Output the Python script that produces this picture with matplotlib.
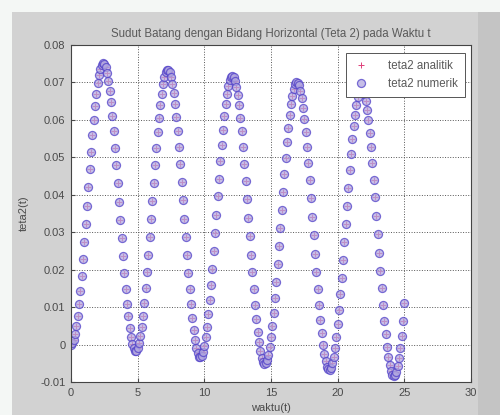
import numpy as np
import matplotlib.pyplot as plt
from matplotlib.patches import Rectangle

plt.rcParams['font.family'] = ['Liberation Sans', 'DejaVu Sans']

# time samples (0 .. 25 s, step 0.1)
waktu = np.round(np.arange(0, 251) * 0.1, 1)

# teta2 (analytic)
teta2_analitik = [
    0.0000, 0.0003, 0.0012, 0.0027, 0.0049, 0.0076, 0.0107, 0.0144, 0.0184, 0.0228,
    0.0274, 0.0322, 0.0371, 0.0420, 0.0468, 0.0514, 0.0559, 0.0600, 0.0637, 0.0670,
    0.0698, 0.0720, 0.0737, 0.0747, 0.0751, 0.0749, 0.0741, 0.0726, 0.0705, 0.0678,
    0.0647, 0.0611, 0.0570, 0.0526, 0.0480, 0.0432, 0.0382, 0.0333, 0.0284, 0.0236,
    0.0190, 0.0148, 0.0109, 0.0075, 0.0045, 0.0021, 0.0002, -0.0010, -0.0016, -0.0016,
    -0.0009, 0.0004, 0.0023, 0.0047, 0.0077, 0.0112, 0.0151, 0.0193, 0.0239, 0.0286,
    0.0334, 0.0383, 0.0432, 0.0479, 0.0524, 0.0567, 0.0606, 0.0640, 0.0670, 0.0695,
    0.0714, 0.0727, 0.0734, 0.0734, 0.0728, 0.0715, 0.0697, 0.0673, 0.0643, 0.0609,
    0.0570, 0.0527, 0.0482, 0.0434, 0.0385, 0.0335, 0.0286, 0.0238, 0.0191, 0.0148,
    0.0107, 0.0071, 0.0039, 0.0013, -0.0008, -0.0023, -0.0032, -0.0034, -0.0030, -0.0019,
    -0.0003, 0.0020, 0.0048, 0.0081, 0.0118, 0.0159, 0.0203, 0.0250, 0.0298, 0.0347,
    0.0396, 0.0443, 0.0490, 0.0533, 0.0574, 0.0610, 0.0642, 0.0669, 0.0690, 0.0706,
    0.0715, 0.0718, 0.0714, 0.0704, 0.0688, 0.0666, 0.0639, 0.0606, 0.0569, 0.0528,
    0.0483, 0.0436, 0.0388, 0.0338, 0.0289, 0.0240, 0.0193, 0.0148, 0.0106, 0.0068,
    0.0034, 0.0006, -0.0017, -0.0035, -0.0046, -0.0051, -0.0049, -0.0041, -0.0027, -0.0007,
    0.0019, 0.0050, 0.0085, 0.0125, 0.0168, 0.0214, 0.0262, 0.0310, 0.0359, 0.0408,
    0.0455, 0.0499, 0.0541, 0.0579, 0.0613, 0.0642, 0.0665, 0.0683, 0.0695, 0.0700,
    0.0699, 0.0692, 0.0678, 0.0659, 0.0633, 0.0603, 0.0567, 0.0528, 0.0485, 0.0439,
    0.0391, 0.0341, 0.0292, 0.0242, 0.0194, 0.0148, 0.0105, 0.0066, 0.0030, 0.0000,
    -0.0026, -0.0045, -0.0059, -0.0066, -0.0067, -0.0062, -0.0050, -0.0033, -0.0009, 0.0020,
    0.0054, 0.0092, 0.0134, 0.0178, 0.0225, 0.0274, 0.0323, 0.0371, 0.0419, 0.0465,
    0.0508, 0.0548, 0.0583, 0.0614, 0.0640, 0.0660, 0.0674, 0.0682, 0.0684, 0.0679,
    0.0668, 0.0650, 0.0627, 0.0599, 0.0565, 0.0527, 0.0485, 0.0440, 0.0393, 0.0344,
    0.0295, 0.0245, 0.0197, 0.0150, 0.0105, 0.0064, 0.0027, -0.0006, -0.0033, -0.0055,
    -0.0071, -0.0081, -0.0085, -0.0082, -0.0073, -0.0057, -0.0036, -0.0009, 0.0023, 0.0062,
    0.0112,
]
# numeric solution lies on top of the analytic one
teta2_numerik = list(teta2_analitik)

xticks = [0, 5, 10, 15, 20, 25, 30]
yticks = [-0.01, 0, 0.01, 0.02, 0.03, 0.04, 0.05, 0.06, 0.07, 0.08]
ytick_labels = ['-0.01', '0', '0.01', '0.02', '0.03', '0.04', '0.05', '0.06', '0.07', '0.08']

fig = plt.figure(figsize=(5, 4.15), dpi=100, facecolor='#f4f7f5')
# gray figure panel (screenshot of matlab window)
fig.patches.append(Rectangle((12 / 500, 0), (478 - 12) / 500, 1 - 12 / 415,
                             transform=fig.transFigure, facecolor='#d2d2d2',
                             edgecolor='none', zorder=-10))
fig.patches.append(Rectangle((478 / 500, 0), 22 / 500, 1 - 12 / 415,
                             transform=fig.transFigure, facecolor='#c4c4c4',
                             edgecolor='none', zorder=-10))

ax = fig.add_axes([71 / 500, 1 - 382 / 415, 400 / 500, 337 / 415])
ax.plot(waktu, teta2_analitik, '+', color='#e0407a', markersize=5, markeredgewidth=0.7,
        label='teta2 analitik')
ax.plot(waktu, teta2_numerik, 'o', color='#5040c8', markerfacecolor='#b3a9e0',
        markersize=5.8, markeredgewidth=0.9, alpha=0.75, label='teta2 numerik')

ax.set_xlim(0, 30)
ax.set_ylim(-0.01, 0.08)
ax.set_xticks(xticks)
ax.set_yticks(yticks)
ax.set_yticklabels(ytick_labels)
ax.tick_params(direction='in', labelsize=8, colors='#4a4a4a', length=3, pad=4)
ax.grid(True, linestyle=':', color='#555555', linewidth=0.7)
for s in ax.spines.values():
    s.set_color('#444444')
    s.set_linewidth(0.8)

ax.set_title('Sudut Batang dengan Bidang Horizontal (Teta 2) pada Waktu t',
             fontsize=8.3, color='#5a5a5a', pad=6)
ax.set_xlabel('waktu(t)', fontsize=8, color='#4a4a4a', labelpad=4)
ax.set_ylabel('teta2(t)', fontsize=8, color='#4a4a4a', labelpad=8)

leg = ax.legend(loc='upper right', bbox_to_anchor=((465 - 71) / 400, (382 - 53) / 337),
                borderaxespad=0, fontsize=8.3, framealpha=1, fancybox=False,
                edgecolor='#555555', handlelength=1.5, handletextpad=1.6,
                borderpad=0.6, labelspacing=0.5)
leg.get_frame().set_linewidth(0.7)
for t in leg.get_texts():
    t.set_color('#5a5a5a')

fig.savefig('out.png', dpi=100, facecolor=fig.get_facecolor())
